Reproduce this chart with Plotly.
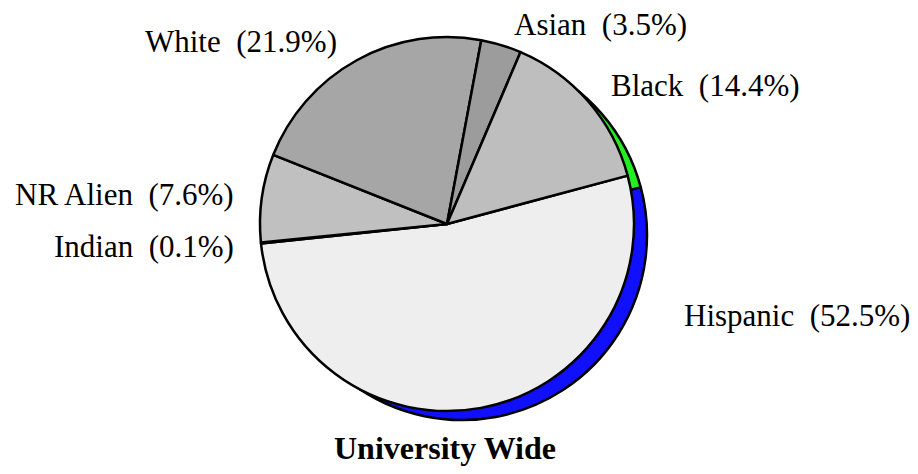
import plotly.graph_objects as go

# Data
categories = ["Hispanic", "Indian", "NR Alien", "White", "Asian", "Black"]
percents = [52.5, 0.1, 7.6, 21.9, 3.5, 14.4]
front_colors = ["#eeeeee", "#b8b800", "#c0c0c0", "#a6a6a6", "#9c9c9c", "#bebebe"]
back_colors = ["#1010ff", "#c0c0c0", "#c0c0c0", "#a6a6a6", "#9c9c9c", "#22ee22"]
title_text = "University Wide"

W, H = 918, 474
OFF = 8  # page body margin
cx, cy, r = 447 - OFF, 224 - OFF, 187
dx, dy, dr = 15, 11, -2

def dom(cx, cy, r):
    return dict(x=[(cx - r) / W, (cx + r) / W], y=[1 - (cy + r) / H, 1 - (cy - r) / H])

fig = go.Figure()
# back (depth) pie
fig.add_trace(go.Pie(
    labels=categories, values=percents, sort=False, direction="clockwise", rotation=75,
    marker=dict(colors=back_colors, line=dict(color="black", width=2.5)),
    textinfo="none", hoverinfo="skip", showlegend=False, domain=dom(cx + dx, cy + dy, r + dr)))
# front pie
fig.add_trace(go.Pie(
    labels=categories, values=percents, sort=False, direction="clockwise", rotation=75,
    marker=dict(colors=front_colors, line=dict(color="black", width=2.5)),
    textinfo="none", showlegend=False, domain=dom(cx, cy, r)))

# label placement (layout only)
label_pos = {
    "Asian": (600, 24, "center"),
    "White": (241, 41, "center"),
    "Black": (705, 85, "center"),
    "NR Alien": (236, 195, "right"),
    "Indian": (236, 246, "right"),
    "Hispanic": (797, 315, "center"),
}
font = dict(family="Liberation Serif", size=31, color="black")
for cat, p in zip(categories, percents):
    x, y, anc = label_pos[cat]
    fig.add_annotation(x=(x - OFF) / W, y=1 - (y - OFF) / H, xref="paper", yref="paper",
                       text=f"{cat}&nbsp;&nbsp;({p:.1f}%)", showarrow=False,
                       xanchor=anc, yanchor="middle", font=font)
fig.add_annotation(x=(445 - OFF) / W, y=1 - (448 - OFF) / H, xref="paper", yref="paper",
                   text=f"<b>{title_text}</b>", showarrow=False,
                   xanchor="center", yanchor="middle",
                   font=dict(family="Liberation Serif", size=32, color="black"))

fig.update_layout(width=W, height=H, margin=dict(l=0, r=0, t=0, b=0),
                  paper_bgcolor="white", plot_bgcolor="white")
fig.write_html("out.html")
